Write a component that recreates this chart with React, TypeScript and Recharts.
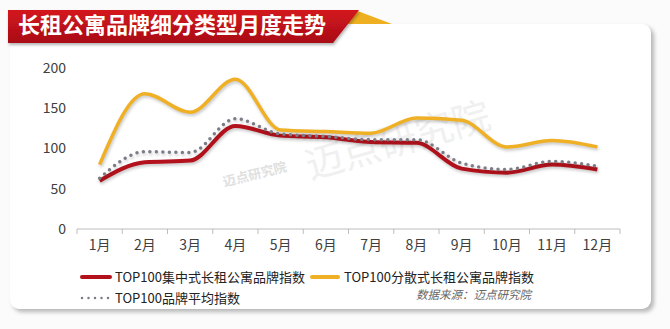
import { CartesianGrid, Line, LineChart, XAxis, YAxis } from "recharts";

const MONTHS = ["1月", "2月", "3月", "4月", "5月", "6月", "7月", "8月", "9月", "10月", "11月", "12月"];
const CENTRAL = [60, 83, 85, 128, 116, 114, 108, 107, 75, 70, 80, 74];
const SCATTERED = [80, 168, 145, 186, 123, 121, 119, 138, 135, 102, 110, 102];
const AVERAGE = [63, 96, 95, 137, 118, 115, 111, 111, 82, 74, 84, 78];
const Y_TICKS = [0, 50, 100, 150, 200];

const SERIES = [
  { key: "central", name: "TOP100集中式长租公寓品牌指数", color: "#b3121c" },
  { key: "scattered", name: "TOP100分散式长租公寓品牌指数", color: "#efb025" },
  { key: "average", name: "TOP100品牌平均指数", color: "#7b7c86" },
];

const data = MONTHS.map((m, i) => ({
  month: m,
  central: CENTRAL[i],
  scattered: SCATTERED[i],
  average: AVERAGE[i],
}));

const FONT = '"Noto Sans CJK SC", "Noto Sans", sans-serif';
const BAND = 543 / MONTHS.length;

function MonthTick(props: any) {
  const { x, y, payload, index } = props;
  const half = BAND / 2;
  return (
    <g>
      <line x1={x - half} x2={x - half} y1={y - 8} y2={y - 3} stroke="#bdbdbd" />
      {index === MONTHS.length - 1 && (
        <line x1={x + half} x2={x + half} y1={y - 8} y2={y - 3} stroke="#bdbdbd" />
      )}
      <text x={x} y={y + 13} textAnchor="middle" fill="#404040" fontSize={14} fontFamily={FONT}>
        {payload.value}
      </text>
    </g>
  );
}

export default function App() {
  return (
    <div style={{ position: "fixed", left: 0, top: 0, width: 670, height: 329, background: "#fbfbfb", overflow: "hidden", fontFamily: FONT }}>
      <style>{`.recharts-line-curve { filter: drop-shadow(1px 2px 1.5px rgba(0,0,0,0.22)); }`}</style>
      <div
        style={{
          position: "absolute",
          left: 10,
          top: 24,
          width: 641,
          height: 285,
          background: "#fff",
          borderRadius: 9,
          boxShadow: "3px 3px 4px rgba(0,0,0,0.28)",
        }}
      />
      <div
        style={{
          position: "absolute",
          left: 302,
          top: 110,
          fontSize: 38,
          color: "#f0f0f0",
          transform: "rotate(-16deg)",
          whiteSpace: "nowrap",
        }}
      >
        迈点研究院
      </div>
      <div
        style={{
          position: "absolute",
          left: 222,
          top: 164,
          fontSize: 13,
          fontWeight: 700,
          color: "#e0e0e0",
          transform: "rotate(-14deg)",
          whiteSpace: "nowrap",
        }}
      >
        迈点研究院
      </div>
      <svg width={670} height={60} style={{ position: "absolute", left: 0, top: 0 }}>
        <defs>
          <linearGradient id="ban" x1="0" y1="0" x2="0" y2="1">
            <stop offset="0" stopColor="#d3141d" />
            <stop offset="1" stopColor="#a90f17" />
          </linearGradient>
          <filter id="bsh" x="-5%" y="-30%" width="110%" height="160%">
            <feDropShadow dx="1" dy="2" stdDeviation="1.5" floodColor="#000" floodOpacity="0.3" />
          </filter>
        </defs>
        <polygon points="355,10 392,24 343,24" fill="#eeb021" />
        <polygon points="8,10 359,10 333,43 8,43" fill="url(#ban)" filter="url(#bsh)" />
        <text x={18} y={33} fill="#fff" fontSize={22} fontWeight={700} fontFamily={FONT}>
          长租公寓品牌细分类型月度走势
        </text>
      </svg>
      <div style={{ position: "absolute", left: 0, top: 0 }}>
        <LineChart width={670} height={329} data={data} margin={{ top: 68, right: 50, bottom: 70, left: 0 }}>
          <CartesianGrid vertical={false} horizontal={false} />
          <XAxis
            dataKey="month"
            scale="band"
            height={30}
            stroke="#bdbdbd"
            tickLine={false}
            tick={<MonthTick />}
            tickSize={0}
            tickMargin={8}
            interval={0}
          />
          <YAxis
            domain={[0, 200]}
            ticks={Y_TICKS}
            width={77}
            axisLine={false}
            tickLine={false}
            tickSize={0}
            tickMargin={11}
            tick={{ fill: "#404040", fontSize: 14, fontFamily: FONT }}
          />
          <Line
            type="monotone"
            dataKey="scattered"
            name={SERIES[1].name}
            stroke={SERIES[1].color}
            strokeWidth={3.5}
            dot={false}
            isAnimationActive={false}
          />
          <Line
            type="monotone"
            dataKey="central"
            name={SERIES[0].name}
            stroke={SERIES[0].color}
            strokeWidth={4}
            dot={false}
            isAnimationActive={false}
          />
          <Line
            type="monotone"
            dataKey="average"
            name={SERIES[2].name}
            stroke={SERIES[2].color}
            strokeWidth={3.5}
            strokeDasharray="0 6.5"
            strokeLinecap="round"
            dot={false}
            isAnimationActive={false}
          />
        </LineChart>
      </div>
      <div style={{ position: "absolute", left: 80, top: 267, fontSize: 13, color: "#222", lineHeight: "20px" }}>
        <div style={{ display: "flex", alignItems: "center" }}>
          <span style={{ width: 32, height: 4, borderRadius: 2, background: SERIES[0].color, marginRight: 3 }} />
          <span>{SERIES[0].name}</span>
          <span style={{ width: 30, height: 4, borderRadius: 2, background: SERIES[1].color, margin: "0 4px 0 5px" }} />
          <span>{SERIES[1].name}</span>
        </div>
        <div style={{ display: "flex", alignItems: "center", marginTop: 1 }}>
          <svg width={35} height={6}>
            <line x1={2} x2={32} y1={3} y2={3} stroke={SERIES[2].color} strokeWidth={2.5} strokeDasharray="0 6.5" strokeLinecap="round" />
          </svg>
          <span>{SERIES[2].name}</span>
        </div>
      </div>
      <div style={{ position: "absolute", left: 416, top: 287, fontSize: 11.5, color: "#666", fontStyle: "italic", lineHeight: "14px" }}>
        数据来源：迈点研究院
      </div>
    </div>
  );
}
